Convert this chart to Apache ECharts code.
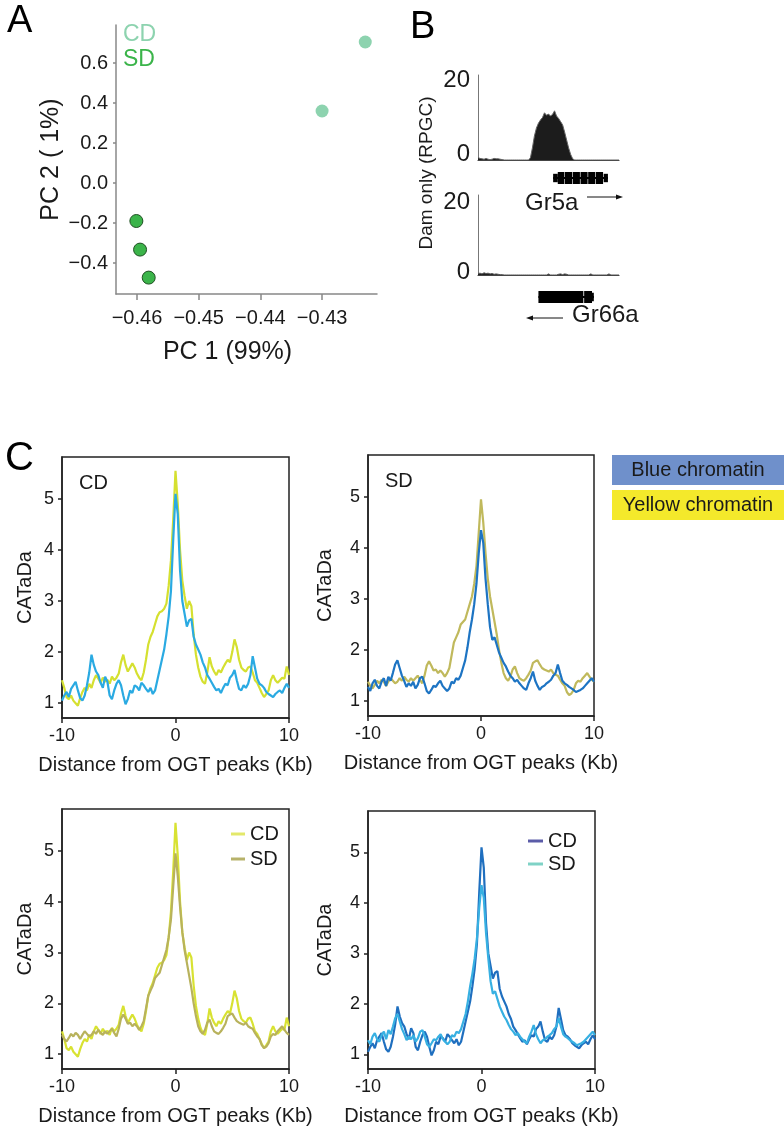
<!DOCTYPE html>
<html><head><meta charset="utf-8">
<script src="https://cdn.jsdelivr.net/npm/echarts@6/dist/echarts.min.js"></script>
<style>html,body{margin:0;padding:0;background:#fff}#c{width:784px;height:1127px}</style>
</head><body><div id="c"></div>
<script>
// ---------- Panel A: PCA ----------
const pcaCD_x = [-0.4300, -0.4230];
const pcaCD_y = [0.36, 0.705];
const pcaSD_x = [-0.4601, -0.4595, -0.4581];
const pcaSD_y = [-0.19, -0.333, -0.473];
const pcaXTicks = [-0.46, -0.45, -0.44, -0.43];
const pcaYTicks = [-0.4, -0.2, 0, 0.2, 0.4, 0.6];

// ---------- Panel B: Dam only tracks ----------
const trackBins = [0,1,2,3,4,5,6,7,8,9,10,11,12,13,14,15,16,17,18,19,20,21,22,23,24,25,26,27,28,29,30,31,32,33,34,35,36,37,38,39,40,41,42,43,44,45,46,47,48,49,50,51,52,53,54,55,56,57,58,59,60,61,62,63,64,65,66,67,68,69,70];
const gr5aSignal = [0.6,0.4,0.3,0.2,0.4,0.2,0.1,0.2,0.4,0.3,0.3,0.2,0.1,0,0,0,0,0,0,0,0,0,0,0,0,0,
  0.5,3.0,6.0,8.0,9.2,10.0,10.6,11.8,11.2,11.5,11.0,11.4,12.3,11.0,10.4,9.6,8.8,7.0,5.0,3.0,1.4,0.3,
  0,0,0,0,0,0,0,0,0,0,0,0,0,0,0,0,0,0,0,0,0,0,0];
const gr66aSignal = [0.4,0.5,0.3,0.6,0.4,0.5,0.3,0.4,0.2,0.3,0.2,0.1,0.1,
  0,0,0,0,0,0,0,0,0,0,0,0,0,0,0,0,0,0,0,0,0,0,
  0.3,0,0,0,0,0.2,0.3,0.1,0.3,0.2,0,
  0,0,0,0,0,0,0,0,0,0,0.3,0,0,0,0,0,0,0,0,0.3,0,0,0,0,0];
const trackYTicks = [0, 20];
// gene models: [start, end, low, high]
const gr5aBlocks = [[37.3,64.5,0.42,0.58],[37.3,39.6,0.15,0.85],[39.6,42.9,0,1],[43.2,46.7,0,1],[47.0,50.6,0,1],[50.9,54.4,0,1],[54.7,58.1,0,1],[58.4,62.1,0,1],[62.4,64.5,0.15,0.85]];
const gr66aBlocks = [[30,57.5,0.42,0.58],[30,52.3,0,1],[52.7,56.6,0,1],[56.6,57.5,0.15,0.85]];

// ---------- Panel C: CATaDa profiles ----------
const distanceKb = [-10,-9.8,-9.6,-9.4,-9.2,-9,-8.8,-8.6,-8.4,-8.2,-8,-7.8,-7.6,-7.4,-7.2,-7,-6.8,-6.6,-6.4,-6.2,-6,-5.8,-5.6,-5.4,-5.2,-5,-4.8,-4.6,-4.4,-4.2,-4,-3.8,-3.6,-3.4,-3.2,-3,-2.8,-2.6,-2.4,-2.2,-2,-1.8,-1.6,-1.4,-1.2,-1,-0.8,-0.6,-0.4,-0.2,0,0.2,0.4,0.6,0.8,1,1.2,1.4,1.6,1.8,2,2.2,2.4,2.6,2.8,3,3.2,3.4,3.6,3.8,4,4.2,4.4,4.6,4.8,5,5.2,5.4,5.6,5.8,6,6.2,6.4,6.6,6.8,7,7.2,7.4,7.6,7.8,8,8.2,8.4,8.6,8.8,9,9.2,9.4,9.6,9.8,10];
const yellowCD = [1.45,1.30,1.12,1.08,1.15,1.05,1.00,0.95,1.10,1.22,
  1.30,1.25,1.38,1.30,1.45,1.55,1.48,1.40,1.50,1.42,
  1.46,1.38,1.52,1.45,1.50,1.58,1.80,1.95,1.75,1.62,
  1.70,1.78,1.70,1.58,1.50,1.45,1.60,1.85,2.15,2.30,
  2.40,2.55,2.70,2.78,2.80,2.85,2.95,3.30,3.80,4.60,
  5.55,
  4.90,4.00,3.40,3.10,2.85,3.00,2.90,2.35,1.95,1.70,
  1.52,1.42,1.38,1.60,1.90,1.72,1.62,1.55,1.65,1.60,
  1.70,1.78,1.85,1.80,2.00,2.25,2.10,1.85,1.70,1.65,
  1.62,1.70,1.72,1.60,1.45,1.40,1.30,1.20,1.12,1.18,
  1.25,1.45,1.55,1.45,1.40,1.45,1.50,1.48,1.72,1.55];
const yellowSD = [1.38,1.30,1.25,1.32,1.40,1.35,1.42,1.38,1.30,1.38,
  1.45,1.40,1.35,1.38,1.45,1.40,1.48,1.42,1.38,1.45,
  1.40,1.45,1.50,1.42,1.35,1.50,1.70,1.78,1.70,1.60,
  1.62,1.55,1.60,1.55,1.48,1.55,1.65,1.90,2.15,2.25,
  2.35,2.50,2.55,2.60,2.75,2.90,3.05,3.30,3.65,4.30,
  4.95,
  4.50,3.90,3.40,3.05,2.80,2.55,2.30,2.00,1.75,1.55,
  1.45,1.40,1.48,1.62,1.68,1.55,1.45,1.42,1.40,1.45,
  1.52,1.60,1.75,1.78,1.80,1.72,1.65,1.62,1.60,1.58,
  1.62,1.55,1.52,1.50,1.42,1.35,1.30,1.18,1.12,1.15,
  1.22,1.35,1.40,1.38,1.45,1.50,1.55,1.48,1.42,1.38];
const blueCD = [1.05,1.15,1.22,1.12,1.28,1.35,1.42,1.25,1.10,1.05,
  1.15,1.35,1.60,1.95,1.75,1.62,1.55,1.40,1.30,1.52,
  1.42,1.15,1.08,1.25,1.38,1.45,1.35,1.15,0.98,1.08,
  1.25,1.20,1.35,1.32,1.25,1.40,1.35,1.28,1.22,1.30,
  1.18,1.25,1.45,1.65,1.85,2.05,2.35,2.70,3.20,4.20,
  5.10,
  4.70,3.60,3.00,2.75,2.50,2.62,2.65,2.30,2.15,2.05,
  1.95,1.80,1.70,1.55,1.48,1.40,1.32,1.25,1.28,1.20,
  1.30,1.38,1.35,1.50,1.55,1.65,1.45,1.28,1.25,1.35,
  1.30,1.38,1.55,1.92,1.70,1.48,1.38,1.35,1.30,1.22,
  1.18,1.15,1.12,1.18,1.22,1.25,1.20,1.30,1.38,1.30];
const blueSD = [1.28,1.20,1.35,1.42,1.30,1.25,1.38,1.45,1.30,1.48,
  1.40,1.55,1.72,1.80,1.65,1.50,1.40,1.28,1.35,1.30,
  1.38,1.25,1.32,1.45,1.48,1.35,1.20,1.15,1.22,1.30,
  1.28,1.35,1.40,1.30,1.25,1.20,1.25,1.38,1.35,1.45,
  1.42,1.50,1.65,1.80,2.05,2.35,2.60,2.90,3.30,3.90,
  4.35,
  4.10,3.40,2.90,2.45,2.20,2.25,2.10,1.95,1.85,1.75,
  1.68,1.58,1.50,1.45,1.38,1.42,1.35,1.30,1.25,1.22,
  1.35,1.45,1.58,1.40,1.30,1.22,1.28,1.30,1.35,1.38,
  1.42,1.50,1.55,1.72,1.55,1.40,1.35,1.32,1.28,1.25,
  1.22,1.18,1.20,1.22,1.25,1.30,1.35,1.40,1.45,1.38];
const cYTicks = [1, 2, 3, 4, 5];

// ---------- build ----------
const FONT = 'Liberation Sans, Arial, Helvetica, sans-serif';
const TXT = '#1a1a1a';
const chart = echarts.init(document.getElementById('c'), null, {renderer: 'canvas', width: 784, height: 1127});

const zip = (a, b) => a.map((v, i) => [v, b[i]]);
const minus = s => s.replace('-', '\u2212');

function cX(g) {
  return {gridIndex: g, type: 'value', min: -10, max: 10, interval: 10,
    axisLine: {show: true, onZero: false, lineStyle: {color: '#222', width: 1.5}},
    axisTick: {show: true, length: 5, lineStyle: {color: '#222', width: 1.5}},
    axisLabel: {fontSize: 18, color: TXT, margin: 9, fontFamily: FONT},
    splitLine: {show: false},
    name: 'Distance from OGT peaks (Kb)', nameLocation: 'middle', nameGap: 37,
    nameTextStyle: {fontSize: 20, color: TXT, fontFamily: FONT}};
}
function cY(g, gap) {
  return {gridIndex: g, type: 'value', min: 0.71, max: 5.82,
    axisLine: {show: true, onZero: false, lineStyle: {color: '#222', width: 1.5}},
    axisTick: {show: true, length: 4, customValues: cYTicks, lineStyle: {color: '#222', width: 1.5}},
    axisLabel: {customValues: cYTicks, fontSize: 18, color: TXT, margin: 8, fontFamily: FONT},
    splitLine: {show: false},
    name: 'CATaDa', nameLocation: 'middle', nameGap: gap,
    nameTextStyle: {fontSize: 20, color: TXT, fontFamily: FONT}};
}
function cLine(name, ax, vals, color) {
  return {type: 'line', name: name, xAxisIndex: ax, yAxisIndex: ax, data: zip(distanceKb, vals),
    symbol: 'none', showSymbol: false, lineStyle: {color: color, width: 2.2}, itemStyle: {color: color},
    silent: true};
}
function bTrackX(g) {
  return {gridIndex: g, type: 'value', min: 0, max: 70,
    axisLine: {show: true, onZero: false, lineStyle: {color: '#444', width: 1.2}},
    axisTick: {show: false}, axisLabel: {show: false}, splitLine: {show: false}};
}
function bTrackY(g, max, pad) {
  return {gridIndex: g, type: 'value', min: 0, max: max,
    axisLine: {show: true, onZero: false, lineStyle: {color: '#777', width: 1}},
    axisTick: {show: false},
    axisLabel: {customValues: trackYTicks, margin: 8, color: TXT, fontFamily: FONT,
      formatter: v => v === 0 ? '{z|0}' : '{t|' + v + '}',
      rich: {z: {fontSize: 24, fontFamily: FONT, color: TXT, padding: [0, 0, pad, 0]},
             t: {fontSize: 24, fontFamily: FONT, color: TXT}}},
    splitLine: {show: false}};
}
function geneX(g) {
  return {gridIndex: g, type: 'value', min: 0, max: 70, show: false};
}
function geneY(g) {
  return {gridIndex: g, type: 'value', min: 0, max: 1, show: false};
}
function geneRender(params, api) {
  const p0 = api.coord([api.value(0), api.value(2)]);
  const p1 = api.coord([api.value(1), api.value(3)]);
  return {type: 'rect', shape: {x: p0[0], y: p1[1], width: p1[0] - p0[0], height: p0[1] - p1[1]},
    style: {fill: '#000'}};
}

const option = {
  animation: false,
  textStyle: {fontFamily: FONT},
  title: [
    {text: 'A', left: 2, top: -2, textStyle: {fontSize: 38, fontWeight: 'normal', color: '#000', fontFamily: FONT}},
    {text: 'B', left: 405, top: 4, textStyle: {fontSize: 38, fontWeight: 'normal', color: '#000', fontFamily: FONT}},
    {text: 'C', left: 0, top: 434, textStyle: {fontSize: 40, fontWeight: 'normal', color: '#000', fontFamily: FONT}},
    {text: 'CD', left: 74, top: 468, textStyle: {fontSize: 20, fontWeight: 'normal', color: TXT, fontFamily: FONT}},
    {text: 'SD', left: 380, top: 466, textStyle: {fontSize: 20, fontWeight: 'normal', color: TXT, fontFamily: FONT}}
  ],
  legend: [
    {left: 226, top: 819, orient: 'vertical', itemGap: 5, icon: 'rect', itemWidth: 14, itemHeight: 3,
     selectedMode: false, textStyle: {fontSize: 20, color: TXT, fontFamily: FONT},
     data: [{name: 'CD', itemStyle: {color: '#e3e86a'}}, {name: 'SD', itemStyle: {color: '#b7b26a'}}]},
    {left: 523, top: 826, orient: 'vertical', itemGap: 3, icon: 'rect', itemWidth: 15, itemHeight: 3,
     selectedMode: false, textStyle: {fontSize: 20, color: TXT, fontFamily: FONT},
     data: [{name: 'CD', itemStyle: {color: '#5b5ca8'}}, {name: 'SD', itemStyle: {color: '#7fd2c6'}}]}
  ],
  grid: [
    {left: 116, top: 25, width: 261, height: 269},
    {left: 478, top: 75, width: 141, height: 85},
    {left: 478, top: 195, width: 141, height: 80},
    {left: 478, top: 172, width: 141, height: 12},
    {left: 478, top: 291, width: 141, height: 12},
    {left: 62, top: 457, width: 227, height: 261, show: true, borderColor: '#222', borderWidth: 1.5, backgroundColor: 'transparent'},
    {left: 368, top: 455, width: 226, height: 261, show: true, borderColor: '#222', borderWidth: 1.5, backgroundColor: 'transparent'},
    {left: 62, top: 809, width: 227, height: 261, show: true, borderColor: '#222', borderWidth: 1.5, backgroundColor: 'transparent'},
    {left: 368, top: 811, width: 227, height: 261, show: true, borderColor: '#222', borderWidth: 1.5, backgroundColor: 'transparent'}
  ],
  xAxis: [
    {gridIndex: 0, type: 'value', min: -0.4634, max: -0.4211,
     axisLine: {show: true, onZero: false, lineStyle: {color: '#888', width: 1.5}},
     axisTick: {show: true, length: 6, customValues: pcaXTicks, lineStyle: {color: '#888', width: 1.5}},
     axisLabel: {customValues: pcaXTicks, fontSize: 20, color: TXT, margin: 14, fontFamily: FONT,
       formatter: v => minus(v.toFixed(2))},
     splitLine: {show: false},
     name: 'PC 1 (99%)', nameLocation: 'middle', nameGap: 46,
     nameTextStyle: {fontSize: 25, color: TXT, fontFamily: FONT, padding: [0, 38, 0, 0]}},
    bTrackX(1), bTrackX(2), geneX(3), geneX(4),
    cX(5), cX(6), cX(7), cX(8)
  ],
  yAxis: [
    {gridIndex: 0, type: 'value', min: -0.555, max: 0.79,
     axisLine: {show: true, onZero: false, lineStyle: {color: '#888', width: 1.5}},
     axisTick: {show: true, length: 3, customValues: pcaYTicks, lineStyle: {color: '#888', width: 1.5}},
     axisLabel: {customValues: pcaYTicks, fontSize: 20, color: TXT, margin: 8, fontFamily: FONT,
       formatter: v => minus(v.toFixed(1))},
     splitLine: {show: false},
     name: 'PC 2 ( 1%)', nameLocation: 'middle', nameGap: 52,
     nameTextStyle: {fontSize: 25, color: TXT, fontFamily: FONT}},
    bTrackY(1, 21.25, 12), bTrackY(2, 21.9, 6), geneY(3), geneY(4),
    cY(5, 27), cY(6, 33), cY(7, 27), cY(8, 33)
  ],
  series: [
    {type: 'scatter', name: 'pcaCD', xAxisIndex: 0, yAxisIndex: 0, data: zip(pcaCD_x, pcaCD_y),
     symbolSize: 13, itemStyle: {color: '#8dd3af', opacity: 1}, silent: true},
    {type: 'scatter', name: 'pcaSD', xAxisIndex: 0, yAxisIndex: 0, data: zip(pcaSD_x, pcaSD_y),
     symbolSize: 13, itemStyle: {color: '#3bb44a', borderColor: '#1f4f22', borderWidth: 1, opacity: 1}, silent: true},

    {type: 'line', name: 'Gr5a track', xAxisIndex: 1, yAxisIndex: 1, data: zip(trackBins, gr5aSignal),
     symbol: 'none', lineStyle: {color: '#666', width: 1}, areaStyle: {color: '#1c1c1c', opacity: 1}, silent: true},
    {type: 'line', name: 'Gr66a track', xAxisIndex: 2, yAxisIndex: 2, data: zip(trackBins, gr66aSignal),
     symbol: 'none', lineStyle: {color: '#555', width: 1}, areaStyle: {color: '#222', opacity: 1}, silent: true},
    {type: 'custom', name: 'Gr5a model', xAxisIndex: 3, yAxisIndex: 3, data: gr5aBlocks,
     encode: {x: [0, 1], y: [2, 3]}, renderItem: geneRender, silent: true},
    {type: 'custom', name: 'Gr66a model', xAxisIndex: 4, yAxisIndex: 4, data: gr66aBlocks,
     encode: {x: [0, 1], y: [2, 3]}, renderItem: geneRender, silent: true},

    cLine('Yellow CD', 5, yellowCD, '#d5e030'),
    cLine('Blue CD', 5, blueCD, '#2aaae2'),
    cLine('Yellow SD', 6, yellowSD, '#c0b95c'),
    cLine('Blue SD', 6, blueSD, '#1d74c3'),
    cLine('CD', 7, yellowCD, '#d8e232'),
    cLine('SD', 7, yellowSD, '#b8b25c'),
    cLine('CD', 8, blueCD, '#1f6fbf'),
    cLine('SD', 8, blueSD, '#37b0e2')
  ],
  graphic: [
    {type: 'text', x: 123, y: 23, style: {text: 'CD', fill: '#8dd3af', font: '23px ' + FONT}},
    {type: 'text', x: 123, y: 48, style: {text: 'SD', fill: '#3bb44a', font: '23px ' + FONT}},
    {type: 'text', x: 427, y: 173, rotation: Math.PI / 2,
     style: {text: 'Dam only (RPGC)', fill: TXT, font: '19px ' + FONT, align: 'center', verticalAlign: 'middle'}},
    {type: 'text', x: 525, y: 203, style: {text: 'Gr5a', fill: TXT, font: '24px ' + FONT, verticalAlign: 'middle'}},
    {type: 'line', shape: {x1: 587, y1: 197, x2: 618, y2: 197}, style: {stroke: '#111', lineWidth: 1}},
    {type: 'polygon', shape: {points: [[623, 197], [616, 194.5], [616, 199.5]]}, style: {fill: '#111'}},
    {type: 'text', x: 572, y: 315, style: {text: 'Gr66a', fill: TXT, font: '24px ' + FONT, verticalAlign: 'middle'}},
    {type: 'line', shape: {x1: 531, y1: 318, x2: 563, y2: 318}, style: {stroke: '#111', lineWidth: 1}},
    {type: 'polygon', shape: {points: [[526, 318], [533, 315.5], [533, 320.5]]}, style: {fill: '#111'}},
    {type: 'rect', shape: {x: 612, y: 455, width: 172, height: 30}, style: {fill: '#6f90cb'}},
    {type: 'text', x: 698, y: 470, style: {text: 'Blue chromatin', fill: TXT, font: '20px ' + FONT, align: 'center', verticalAlign: 'middle'}},
    {type: 'rect', shape: {x: 612, y: 490, width: 172, height: 30}, style: {fill: '#f4e92b'}},
    {type: 'text', x: 698, y: 505, style: {text: 'Yellow chromatin', fill: TXT, font: '20px ' + FONT, align: 'center', verticalAlign: 'middle'}}
  ]
};
chart.setOption(option);
</script>
</body></html>
